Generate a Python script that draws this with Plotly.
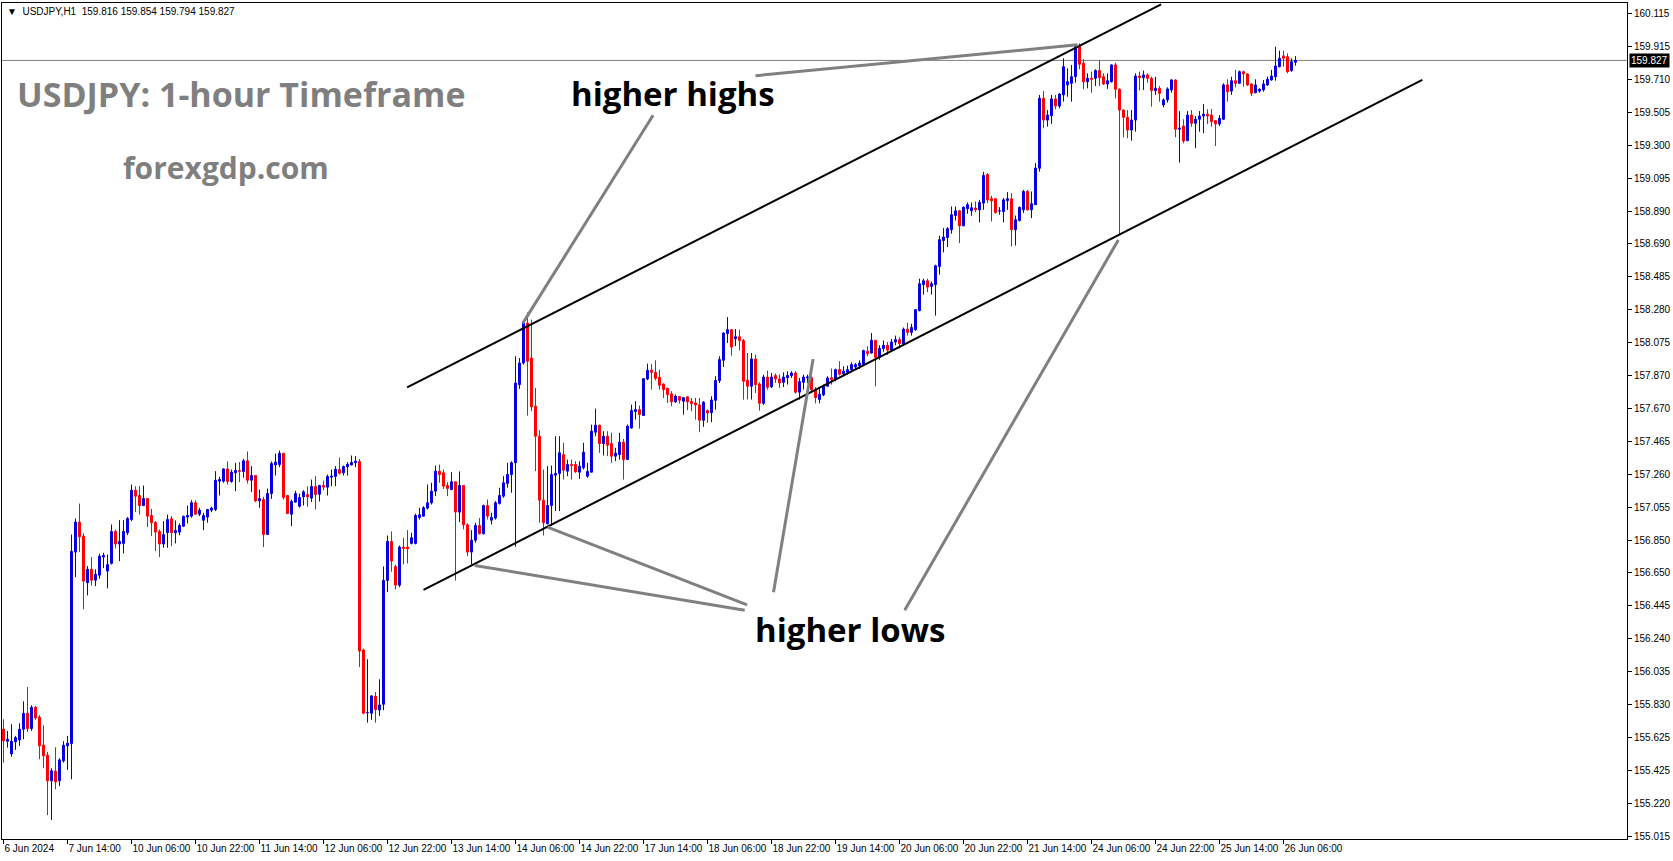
import plotly.graph_objects as go

# ---------------- data (USDJPY H1, bar 0 = 6 Jun 2024 22:00) ----------------
opens = [155.678,155.604,155.525,155.600,155.612,155.678,155.777,155.682,155.814,155.752,
155.579,155.517,155.358,155.418,155.358,155.482,155.575,155.589,156.777,156.963,
156.876,156.587,156.670,156.603,156.634,156.746,156.659,156.707,156.905,156.827,
156.831,156.897,156.979,157.161,157.128,157.066,157.109,157.004,156.961,156.905,
156.827,156.897,156.984,156.897,156.901,156.938,156.994,157.000,157.083,157.012,
156.975,156.994,157.037,157.041,157.217,157.217,157.293,157.215,157.269,157.283,
157.277,157.343,157.223,157.252,157.095,157.103,156.886,157.140,157.318,157.320,
157.390,157.128,157.012,157.087,157.062,157.120,157.134,157.112,157.184,157.136,
157.190,157.180,157.242,157.246,157.289,157.269,157.306,157.318,157.331,157.339,
156.170,155.781,155.777,155.883,155.798,155.833,156.601,156.843,156.688,156.572,
156.808,156.808,156.831,156.831,156.992,157.000,157.050,157.083,157.155,157.279,
157.269,157.190,157.165,157.213,157.025,157.190,156.946,156.777,156.851,156.942,
156.891,157.066,156.975,156.988,157.079,157.124,157.203,157.258,157.331,157.816,
157.950,158.198,157.981,157.682,157.496,157.099,156.953,157.066,157.254,157.265,
157.382,157.279,157.320,157.320,157.273,157.300,157.248,157.273,157.521,157.564,
157.450,157.496,157.450,157.372,157.382,157.459,157.351,157.547,157.649,157.661,
157.624,157.851,157.905,157.892,157.861,157.820,157.793,157.758,157.709,157.742,
157.713,157.740,157.711,157.702,157.690,157.595,157.655,157.642,157.719,157.841,
157.967,158.132,158.157,158.101,158.113,158.089,157.843,157.806,157.975,157.820,
157.700,157.863,157.802,157.872,157.851,157.830,157.859,157.872,157.888,157.769,
157.830,157.858,157.859,157.785,157.723,157.752,157.806,157.859,157.847,157.909,
157.884,157.892,157.909,157.925,157.934,157.940,158.023,158.012,158.091,157.985,
158.040,158.060,158.030,158.080,158.095,158.070,158.160,158.140,158.157,158.275,
158.436,158.460,158.425,158.436,158.549,158.710,158.729,158.777,158.865,158.894,
158.801,158.907,158.894,158.911,158.900,158.942,159.119,158.969,158.969,158.894,
158.890,158.958,158.969,158.777,158.834,158.900,159.014,158.900,158.932,159.158,
159.592,159.457,159.484,159.588,159.544,159.613,159.675,159.685,159.726,159.916,
159.809,159.695,159.716,159.716,159.764,159.726,159.681,159.695,159.799,159.648,
159.519,159.474,159.395,159.457,159.730,159.720,159.737,159.716,159.640,159.654,
159.551,159.582,159.644,159.706,159.400,159.420,159.329,159.488,159.437,159.462,
159.482,159.493,159.488,159.453,159.433,159.462,159.675,159.637,159.701,159.685,
159.757,159.743,159.681,159.627,159.637,159.644,159.675,159.706,159.726,159.788,
159.855,159.850,159.764,159.816]

highs = [155.740,155.668,155.709,155.637,155.715,155.851,155.940,155.827,155.823,155.765,
155.703,155.538,155.436,155.566,155.498,155.604,155.637,156.886,156.985,157.078,
156.893,156.690,156.746,156.670,156.767,156.773,156.762,156.948,156.917,156.975,
156.975,156.994,157.196,157.186,157.186,157.190,157.112,157.045,156.969,156.917,
156.969,157.010,157.000,156.973,156.955,157.004,157.066,157.099,157.099,157.052,
157.021,157.045,157.058,157.279,157.244,157.297,157.339,157.289,157.331,157.335,
157.355,157.401,157.310,157.254,157.165,157.120,157.171,157.339,157.388,157.407,
157.392,157.132,157.103,157.157,157.140,157.161,157.184,157.227,157.248,157.194,
157.221,157.258,157.289,157.310,157.364,157.314,157.335,157.376,157.372,157.355,
156.178,156.112,155.889,155.909,155.988,156.688,156.880,156.905,156.700,156.818,
156.866,156.913,156.897,157.015,157.052,157.062,157.196,157.207,157.314,157.320,
157.289,157.211,157.273,157.215,157.277,157.192,156.955,156.913,156.959,156.988,
157.072,157.103,157.021,157.093,157.176,157.248,157.331,157.341,157.992,157.981,
158.202,158.264,158.219,157.795,157.533,157.289,157.310,157.314,157.496,157.496,
157.455,157.351,157.351,157.341,157.341,157.455,157.331,157.568,157.667,157.568,
157.527,157.527,157.517,157.424,157.517,157.479,157.568,157.692,157.713,157.686,
157.857,157.946,157.944,157.967,157.909,157.822,157.797,157.775,157.754,157.744,
157.740,157.744,157.733,157.733,157.733,157.713,157.661,157.744,157.868,157.992,
158.140,158.235,158.161,158.161,158.157,158.099,158.012,158.012,158.002,157.830,
157.878,157.903,157.888,157.884,157.878,157.892,157.899,157.899,157.899,157.857,
157.878,157.878,157.872,157.800,157.795,157.816,157.868,157.915,157.915,157.961,
157.930,157.934,157.954,157.950,157.967,158.033,158.054,158.136,158.093,158.060,
158.090,158.080,158.100,158.120,158.110,158.170,158.200,158.194,158.285,158.473,
158.473,158.473,158.456,158.560,158.739,158.787,158.793,158.921,158.921,158.900,
158.921,158.946,158.946,158.952,158.962,159.136,159.128,158.987,158.971,158.917,
158.973,159.010,159.004,158.865,158.921,159.024,159.024,159.014,159.190,159.613,
159.637,159.519,159.613,159.613,159.623,159.840,159.778,159.799,159.923,159.933,
159.834,159.747,159.757,159.772,159.830,159.747,159.747,159.803,159.813,159.654,
159.524,159.519,159.519,159.747,159.757,159.764,159.747,159.726,159.726,159.668,
159.592,159.660,159.710,159.710,159.513,159.462,159.513,159.519,159.482,159.513,
159.557,159.524,159.526,159.457,159.488,159.685,159.710,159.726,159.768,159.764,
159.764,159.747,159.685,159.710,159.654,159.706,159.726,159.768,159.912,159.888,
159.888,159.871,159.840,159.854]

lows = [155.471,155.564,155.507,155.550,155.575,155.616,155.661,155.668,155.736,155.492,
155.436,155.145,155.115,155.306,155.325,155.471,155.426,155.368,156.622,156.777,
156.422,156.508,156.570,156.566,156.612,156.678,156.552,156.700,156.800,156.721,
156.769,156.882,156.969,157.025,157.010,157.062,156.932,156.876,156.783,156.746,
156.804,156.804,156.814,156.831,156.882,156.932,156.955,156.990,157.008,157.000,
156.913,156.959,157.025,157.031,157.128,157.207,157.196,157.207,157.155,157.211,
157.238,157.202,157.149,157.087,157.052,156.808,156.884,157.107,157.252,157.304,
157.103,157.012,156.938,157.083,157.052,157.066,157.058,157.087,157.041,157.091,
157.161,157.128,157.186,157.186,157.258,157.252,157.252,157.314,157.304,156.064,
155.771,155.719,155.736,155.719,155.760,155.796,156.529,156.655,156.546,156.560,
156.701,156.707,156.825,156.825,156.979,156.996,157.041,157.072,157.124,157.207,
157.169,157.124,157.161,156.600,156.963,156.918,156.752,156.700,156.835,156.886,
156.886,156.979,156.948,156.979,157.072,157.114,157.176,157.145,156.810,157.789,
157.940,157.624,157.651,157.279,156.959,156.880,156.948,156.938,157.031,157.031,
157.227,157.248,157.227,157.269,157.231,157.289,157.238,157.271,157.496,157.393,
157.376,157.372,157.331,157.341,157.351,157.227,157.349,157.543,157.599,157.543,
157.622,157.843,157.785,157.843,157.785,157.733,157.702,157.682,157.702,157.698,
157.630,157.657,157.651,157.599,157.521,157.554,157.579,157.583,157.661,157.826,
157.925,158.074,157.996,158.054,158.027,157.723,157.723,157.723,157.764,157.655,
157.690,157.785,157.795,157.826,157.795,157.801,157.816,157.857,157.760,157.723,
157.785,157.826,157.764,157.700,157.700,157.744,157.801,157.816,157.837,157.872,
157.868,157.878,157.899,157.909,157.913,157.934,157.992,158.008,157.806,157.970,
158.020,158.000,158.020,158.060,158.040,158.060,158.120,158.120,158.150,158.270,
158.374,158.390,158.374,158.244,158.498,158.636,158.669,158.752,158.834,158.694,
158.799,158.876,158.863,158.886,158.822,158.900,158.942,158.828,158.876,158.870,
158.822,158.900,158.673,158.679,158.828,158.880,158.896,158.849,158.930,159.137,
159.406,159.416,159.433,159.524,159.530,159.571,159.602,159.571,159.689,159.772,
159.648,159.654,159.627,159.668,159.668,159.675,159.650,159.689,159.592,158.744,
159.350,159.344,159.329,159.385,159.640,159.644,159.689,159.540,159.613,159.571,
159.536,159.565,159.627,159.350,159.193,159.313,159.327,159.416,159.282,159.385,
159.375,159.433,159.416,159.296,159.420,159.457,159.571,159.613,159.660,159.681,
159.664,159.668,159.606,159.623,159.627,159.633,159.668,159.701,159.701,159.784,
159.788,159.747,159.757,159.794]

closes = [155.606,155.616,155.604,155.626,155.678,155.777,155.682,155.814,155.748,155.575,
155.513,155.358,155.420,155.352,155.488,155.579,155.591,156.781,156.963,156.872,
156.597,156.670,156.603,156.639,156.752,156.756,156.700,156.905,156.827,156.843,
156.905,156.985,157.161,157.124,157.066,157.109,157.000,156.959,156.901,156.827,
156.886,156.979,156.897,156.911,156.942,156.998,157.004,157.083,157.012,157.037,
157.004,157.041,157.050,157.223,157.227,157.293,157.215,157.273,157.283,157.279,
157.343,157.223,157.252,157.095,157.109,156.886,157.140,157.326,157.335,157.390,
157.116,157.017,157.091,157.140,157.116,157.151,157.120,157.184,157.134,157.190,
157.180,157.246,157.248,157.291,157.266,157.308,157.322,157.333,157.341,156.163,
155.777,155.781,155.885,155.800,155.829,156.601,156.843,156.721,156.572,156.808,
156.800,156.798,156.866,157.004,157.008,157.052,157.083,157.155,157.279,157.258,
157.186,157.172,157.213,157.025,157.190,156.946,156.777,156.851,156.942,156.891,
157.066,157.000,156.992,157.083,157.128,157.207,157.258,157.331,157.826,157.950,
158.198,157.961,157.678,157.496,157.099,156.959,157.066,157.258,157.265,157.393,
157.285,157.320,157.314,157.275,157.310,157.397,157.277,157.527,157.564,157.450,
157.496,157.440,157.372,157.391,157.459,157.351,157.558,157.655,157.661,157.630,
157.853,157.905,157.892,157.855,157.812,157.785,157.754,157.709,157.744,157.719,
157.735,157.709,157.698,157.690,157.595,157.707,157.640,157.721,157.841,157.971,
158.136,158.157,158.049,158.113,158.089,157.837,157.806,157.975,157.816,157.700,
157.863,157.800,157.863,157.851,157.826,157.863,157.872,157.888,157.769,157.835,
157.863,157.863,157.785,157.735,157.756,157.806,157.857,157.847,157.909,157.880,
157.899,157.909,157.940,157.940,157.950,158.027,158.008,158.091,157.985,158.040,
158.060,158.030,158.080,158.095,158.070,158.160,158.140,158.170,158.281,158.442,
158.460,158.421,158.442,158.553,158.715,158.731,158.783,158.870,158.894,158.801,
158.917,158.932,158.913,158.900,158.946,159.113,158.962,158.956,158.884,158.894,
158.962,158.969,158.777,158.839,158.915,159.014,158.900,158.938,159.159,159.592,
159.457,159.488,159.588,159.544,159.619,159.788,159.695,159.726,159.912,159.803,
159.695,159.716,159.710,159.764,159.720,159.681,159.701,159.799,159.648,159.519,
159.474,159.395,159.457,159.730,159.720,159.737,159.716,159.640,159.654,159.623,
159.582,159.650,159.706,159.400,159.406,159.327,159.488,159.437,159.462,159.482,
159.493,159.482,159.447,159.433,159.468,159.675,159.633,159.701,159.685,159.757,
159.743,159.675,159.623,159.675,159.648,159.681,159.710,159.730,159.792,159.840,
159.840,159.757,159.819,159.827]

bars = list(range(len(closes)))

date_tick_bars = [0, 16, 32, 48, 64, 80, 96, 112, 128, 144, 160,
                  176, 192, 208, 224, 240, 256, 272, 288, 304, 320]
date_tick_labels = ["6 Jun 2024", "7 Jun 14:00", "10 Jun 06:00", "10 Jun 22:00",
                    "11 Jun 14:00", "12 Jun 06:00", "12 Jun 22:00", "13 Jun 14:00",
                    "14 Jun 06:00", "14 Jun 22:00", "17 Jun 14:00", "18 Jun 06:00",
                    "18 Jun 22:00", "19 Jun 14:00", "20 Jun 06:00", "20 Jun 22:00",
                    "21 Jun 14:00", "24 Jun 06:00", "24 Jun 22:00", "25 Jun 14:00",
                    "26 Jun 06:00"]

price_ticks = [160.115, 159.915, 159.710, 159.505, 159.300, 159.095, 158.890, 158.690,
               158.485, 158.280, 158.075, 157.870, 157.670, 157.465, 157.260, 157.055,
               156.850, 156.650, 156.445, 156.240, 156.035, 155.830, 155.625, 155.425,
               155.220, 155.015]

bid_price = 159.827
header_ohlc = ["159.816", "159.854", "159.794", "159.827"]

# channel lines (bar index, price)
upper_channel_bars = [100.9, 289.4]
upper_channel_prices = [157.799, 160.175]
lower_channel_bars = [105.0, 354.7]
lower_channel_prices = [156.542, 159.706]

# pointer lines from labels to swing points (bar index, price)
pointer_lines = [
    ([188.0, 268.5], [159.732, 159.924]),
    ([162.4, 129.8], [159.487, 158.196]),
    ([185.3, 117.8], [156.416, 156.694]),
    ([185.9, 136.0], [156.449, 156.932]),
    ([192.5, 202.4], [156.528, 157.975]),
    ([225.3, 278.7], [156.416, 158.713]),
]

# ---------------- layout geometry ----------------
W, H = 1673, 861
ML, MR, MT, MB = 2, 46, 3, 22
X_RANGE = [-0.375, 405.875]
Y_RANGE = [154.9972, 160.1832]


def px(x):
    return (x - ML) / (W - ML - MR)


def py(y):
    return (H - MB - y) / (H - MT - MB)


BLUE = "#0000E0"
RED = "#FF0000"
GRAY = "#808080"
TEXT_FONT = "Open Sans"

fig = go.Figure()

fig.add_trace(go.Candlestick(
    x=bars, open=opens, high=highs, low=lows, close=closes,
    increasing=dict(line=dict(color=BLUE, width=1), fillcolor=BLUE),
    decreasing=dict(line=dict(color=RED, width=1), fillcolor=RED),
    whiskerwidth=0, hoverinfo="skip", showlegend=False,
))

shapes = []
shapes.append(dict(type="line", xref="paper", yref="y", x0=0, x1=1,
                   y0=bid_price, y1=bid_price, line=dict(color=GRAY, width=1), layer="below"))
for bx, bp in [(upper_channel_bars, upper_channel_prices),
               (lower_channel_bars, lower_channel_prices)]:
    shapes.append(dict(type="line", xref="x", yref="y", x0=bx[0], x1=bx[1],
                       y0=bp[0], y1=bp[1], line=dict(color="black", width=2)))
for bx, bp in pointer_lines:
    shapes.append(dict(type="line", xref="x", yref="y", x0=bx[0], x1=bx[1],
                       y0=bp[0], y1=bp[1], line=dict(color=GRAY, width=3)))

annotations = []
annotations.append(dict(xref="paper", yref="paper", x=px(5), y=py(11), xanchor="left",
                        yanchor="middle", showarrow=False,
                        text="\u25BC  USDJPY,H1  " + " ".join(header_ohlc),
                        font=dict(family="Liberation Sans", size=10, color="black")))
annotations.append(dict(xref="paper", yref="paper", x=px(15), y=py(94), xanchor="left",
                        yanchor="middle", showarrow=False,
                        text="<b>USDJPY: 1-hour Timeframe</b>",
                        font=dict(family=TEXT_FONT, size=34, color="#7F7F7F")))
annotations.append(dict(xref="paper", yref="paper", x=px(121), y=py(167), xanchor="left",
                        yanchor="middle", showarrow=False,
                        text="<b>forexgdp.com</b>",
                        font=dict(family=TEXT_FONT, size=30, color="#7F7F7F")))
annotations.append(dict(xref="paper", yref="paper", x=px(569), y=py(94), xanchor="left",
                        yanchor="middle", showarrow=False,
                        text="<b>higher highs</b>",
                        font=dict(family=TEXT_FONT, size=33, color="black")))
annotations.append(dict(xref="paper", yref="paper", x=px(753), y=py(629), xanchor="left",
                        yanchor="middle", showarrow=False,
                        text="<b>higher lows</b>",
                        font=dict(family=TEXT_FONT, size=33, color="black")))
annotations.append(dict(xref="paper", yref="y", x=1, y=bid_price, xanchor="left",
                        yanchor="middle", xshift=2, showarrow=False,
                        text=f"{bid_price:.3f}", bgcolor="black", borderpad=1,
                        font=dict(family="Liberation Sans", size=10, color="white")))

fig.update_layout(
    width=W, height=H,
    margin=dict(l=ML, r=MR, t=MT, b=MB, pad=0, autoexpand=False),
    paper_bgcolor="white", plot_bgcolor="white",
    showlegend=False,
    boxgap=0.3,
    shapes=shapes,
    annotations=annotations,
    xaxis=dict(range=X_RANGE, showgrid=False, zeroline=False, automargin=False,
               rangeslider=dict(visible=False),
               tickmode="array", tickvals=date_tick_bars, ticktext=date_tick_labels,
               tickangle=0,
               ticks="outside", ticklen=4, tickcolor="black", tickwidth=1,
               ticklabelposition="outside right",
               showline=True, linecolor="black", linewidth=1, mirror=True,
               tickfont=dict(family="Liberation Sans", size=10, color="black")),
    yaxis=dict(range=Y_RANGE, side="right", showgrid=False, zeroline=False, automargin=False,
               tickmode="array", tickvals=price_ticks,
               ticktext=[f"{p:.3f}" for p in price_ticks],
               ticks="outside", ticklen=4, tickcolor="black", tickwidth=1,
               showline=True, linecolor="black", linewidth=1, mirror=True,
               tickfont=dict(family="Liberation Sans", size=10, color="black")),
)

fig.write_html("out.html", config={"displayModeBar": False},
               post_script="document.body.style.margin='0';document.body.style.overflow='hidden';")
